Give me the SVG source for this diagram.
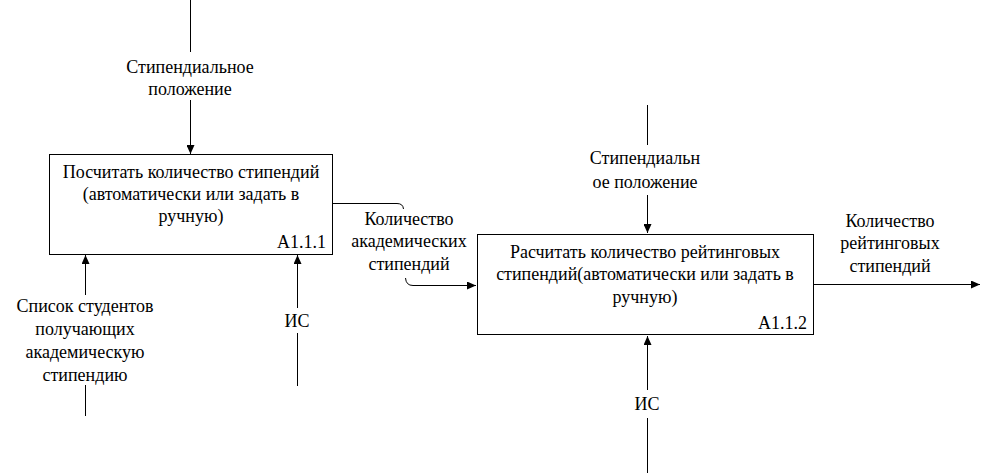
<svg xmlns="http://www.w3.org/2000/svg" width="981" height="473" viewBox="0 0 981 473">
<defs>
<marker id="ah" markerWidth="10" markerHeight="8" refX="9" refY="4" orient="auto" markerUnits="userSpaceOnUse">
<path d="M0,0 L9,4 L0,8 Z" fill="#000"/>
</marker>
</defs>
<g id="connectors" fill="none" stroke="#000" stroke-width="1">
<path d="M190.5,0 V52"/>
<path d="M190.5,100 V154" marker-end="url(#ah)"/>
<path d="M85.5,295 V255" marker-end="url(#ah)"/>
<path d="M85.5,385 V416"/>
<path d="M297.5,308 V255" marker-end="url(#ah)"/>
<path d="M297.5,333 V386"/>
<path d="M332,203.5 H397 Q403,203.5 403.5,209"/>
<path d="M405.5,278 Q406,285.5 413,285.5 H476" marker-end="url(#ah)"/>
<path d="M647.5,105 V145"/>
<path d="M647.5,195 V233" marker-end="url(#ah)"/>
<path d="M647.5,390 V336" marker-end="url(#ah)"/>
<path d="M647.5,418 V473"/>
<path d="M814,284.5 H980" marker-end="url(#ah)"/>
</g>
<g id="A111" font-family="Liberation Serif" font-size="18" fill="#000" text-anchor="middle">
<rect x="49.5" y="154.5" width="283" height="100" fill="#fff" stroke="#000"/>
<text x="191" y="178">Посчитать количество стипендий</text>
<text x="191" y="200">(автоматически или задать в</text>
<text x="191" y="222">ручную)</text>
<text x="326" y="248" text-anchor="end">A1.1.1</text>
</g>
<g id="A112" font-family="Liberation Serif" font-size="18" fill="#000" text-anchor="middle">
<rect x="477.5" y="234.5" width="336" height="100" fill="#fff" stroke="#000"/>
<text x="645" y="258">Расчитать количество рейтинговых</text>
<text x="645" y="280">стипендий(автоматически или задать в</text>
<text x="645" y="303">ручную)</text>
<text x="807" y="329" text-anchor="end">A1.1.2</text>
</g>
<g id="labels" font-family="Liberation Serif" font-size="18" fill="#000" text-anchor="middle">
<text x="190" y="73">Стипендиальное</text>
<text x="190" y="95">положение</text>
<text x="85" y="312">Список студентов</text>
<text x="85" y="335">получающих</text>
<text x="85" y="358">академическую</text>
<text x="85" y="381">стипендию</text>
<text x="297" y="327">ИС</text>
<text x="409" y="225">Количество</text>
<text x="409" y="247">академических</text>
<text x="409" y="270">стипендий</text>
<text x="645" y="164">Стипендиальн</text>
<text x="645" y="188">ое положение</text>
<text x="647" y="410">ИС</text>
<text x="890" y="227">Количество</text>
<text x="890" y="249">рейтинговых</text>
<text x="890" y="272">стипендий</text>
</g>
</svg>
